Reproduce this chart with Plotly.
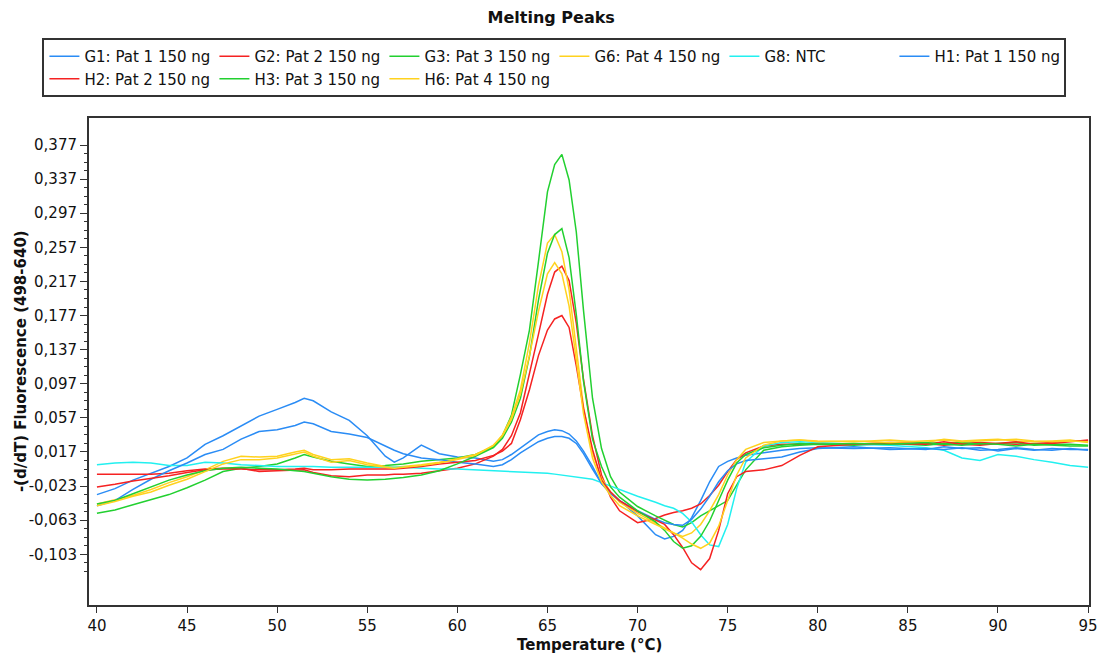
import plotly.graph_objects as go

# ---------------- data ----------------
temperature_c = [40, 41, 42, 43, 44, 45, 46, 47, 48, 49, 50, 51,
                 51.5, 52, 53, 54, 55, 56, 56.5, 57, 58, 59,
                 60, 61, 62, 62.5, 63, 63.5, 64, 64.5,
                 65, 65.4, 65.8, 66.2, 66.6, 67, 67.5, 68, 68.5,
                 69, 70, 71, 71.5, 72, 72.5, 73, 73.5, 74, 74.5, 75, 75.5,
                 76, 77, 78, 79, 80,
                 82, 84, 86, 87, 88, 89, 90, 91, 92, 93, 94, 95]

g1_pat1 = [-0.033, -0.026, -0.016, -0.008, 0.000, 0.010, 0.026, 0.036, 0.048, 0.059, 0.067, 0.075,
           0.080, 0.077, 0.064, 0.054, 0.036, 0.012, 0.005, 0.010, 0.025, 0.015,
           0.011, 0.010, 0.006, 0.008, 0.014, 0.022, 0.030, 0.037,
           0.041, 0.043, 0.042, 0.038, 0.030, 0.018, 0.000, -0.020, -0.030,
           -0.040, -0.058, -0.080, -0.085, -0.082, -0.075, -0.060, -0.040, -0.018, 0.000, 0.006, 0.010,
           0.013, 0.016, 0.019, 0.021, 0.022,
           0.021, 0.022, 0.020, 0.023, 0.021, 0.022, 0.018, 0.021, 0.019, 0.021, 0.020, 0.020]

g2_pat2 = [-0.009, -0.009, -0.009, -0.009, -0.008, -0.005, -0.003, -0.002, -0.002, -0.006, -0.005, -0.004,
           -0.004, -0.007, -0.011, -0.012, -0.010, -0.010, -0.009, -0.009, -0.008, -0.005,
           -0.002, 0.003, 0.012, 0.020, 0.036, 0.063, 0.108, 0.155,
           0.202, 0.228, 0.235, 0.218, 0.168, 0.102, 0.036, -0.010, -0.036,
           -0.052, -0.066, -0.061, -0.057, -0.054, -0.052, -0.049, -0.044, -0.034, -0.022, -0.006, 0.008,
           0.016, 0.024, 0.026, 0.026, 0.027,
           0.026, 0.028, 0.027, 0.025, 0.027, 0.028, 0.027, 0.026, 0.027, 0.028, 0.030, 0.030]

g3_pat3 = [-0.055, -0.051, -0.045, -0.039, -0.033, -0.025, -0.016, -0.006, -0.002, 0.000, 0.003, 0.010,
           0.014, 0.011, 0.006, 0.003, 0.000, 0.001, 0.002, 0.003, 0.006, 0.008,
           0.010, 0.014, 0.023, 0.036, 0.060, 0.108, 0.160, 0.240,
           0.322, 0.354, 0.366, 0.336, 0.275, 0.183, 0.080, 0.021, -0.012,
           -0.030, -0.047, -0.058, -0.063, -0.068, -0.071, -0.066, -0.058, -0.052, -0.046, -0.040, -0.022,
           -0.004, 0.019, 0.023, 0.025, 0.026,
           0.025, 0.027, 0.025, 0.027, 0.028, 0.026, 0.027, 0.028, 0.025, 0.026, 0.026, 0.025]

g6_pat4 = [-0.044, -0.039, -0.034, -0.027, -0.019, -0.012, -0.004, 0.006, 0.012, 0.011, 0.012, 0.017,
           0.019, 0.014, 0.008, 0.009, 0.004, 0.000, -0.001, 0.000, 0.002, 0.005,
           0.009, 0.014, 0.024, 0.037, 0.058, 0.090, 0.145, 0.212,
           0.262, 0.272, 0.252, 0.207, 0.135, 0.070, 0.016, -0.014, -0.030,
           -0.042, -0.055, -0.066, -0.072, -0.078, -0.082, -0.078, -0.068, -0.052, -0.033, -0.010, 0.008,
           0.020, 0.028, 0.030, 0.031, 0.030,
           0.029, 0.031, 0.028, 0.032, 0.030, 0.031, 0.032, 0.030, 0.029, 0.030, 0.031, 0.028]

g8_ntc = [0.002, 0.004, 0.005, 0.004, 0.001, 0.001, 0.005, 0.004, 0.002, 0.001, 0.000, 0.000,
          0.000, 0.000, -0.001, -0.001, -0.001, -0.001, -0.001, -0.001, -0.002, -0.003,
          -0.003, -0.004, -0.005, -0.005, -0.006, -0.006, -0.007, -0.007,
          -0.008, -0.009, -0.010, -0.011, -0.012, -0.013, -0.015, -0.019, -0.023,
          -0.027, -0.035, -0.042, -0.046, -0.049, -0.055, -0.065, -0.080, -0.092, -0.094, -0.068, -0.026,
          0.005, 0.024, 0.028, 0.029, 0.028,
          0.026, 0.025, 0.022, 0.019, 0.010, 0.007, 0.014, 0.012, 0.008, 0.005, 0.001, -0.001]

h1_pat1 = [-0.046, -0.040, -0.027, -0.015, -0.005, 0.004, 0.014, 0.020, 0.032, 0.041, 0.043, 0.048,
           0.052, 0.050, 0.041, 0.038, 0.034, 0.024, 0.019, 0.015, 0.010, 0.008,
           0.005, 0.003, 0.000, 0.002, 0.008, 0.016, 0.023, 0.029,
           0.033, 0.035, 0.035, 0.033, 0.027, 0.015, -0.003, -0.020, -0.032,
           -0.040, -0.052, -0.062, -0.066, -0.068, -0.069, -0.062, -0.050, -0.035, -0.018, -0.005, 0.003,
           0.007, 0.009, 0.011, 0.017, 0.021,
           0.023, 0.020, 0.021, 0.020, 0.022, 0.019, 0.020, 0.022, 0.020, 0.019, 0.021, 0.019]

h2_pat2 = [-0.024, -0.021, -0.017, -0.014, -0.011, -0.007, -0.004, -0.003, -0.003, -0.004, -0.004, -0.003,
           -0.002, -0.004, -0.004, -0.003, -0.003, -0.003, -0.003, -0.002, 0.000, 0.003,
           0.005, 0.007, 0.013, 0.018, 0.027, 0.055, 0.090, 0.130,
           0.160, 0.173, 0.177, 0.163, 0.118, 0.068, 0.020, -0.016, -0.030,
           -0.040, -0.053, -0.063, -0.068, -0.080, -0.095, -0.113, -0.121, -0.108, -0.075, -0.032, -0.012,
           -0.006, -0.004, 0.001, 0.013, 0.023,
           0.026, 0.027, 0.026, 0.029, 0.026, 0.025, 0.027, 0.029, 0.026, 0.027, 0.029, 0.031]

h3_pat3 = [-0.044, -0.040, -0.032, -0.024, -0.016, -0.010, -0.005, -0.002, -0.001, -0.002, -0.003, -0.005,
           -0.006, -0.008, -0.012, -0.015, -0.016, -0.015, -0.014, -0.013, -0.010, -0.005,
           0.003, 0.012, 0.022, 0.033, 0.052, 0.080, 0.129, 0.195,
           0.250, 0.272, 0.279, 0.245, 0.178, 0.100, 0.032, 0.000, -0.024,
           -0.036, -0.052, -0.065, -0.075, -0.088, -0.096, -0.093, -0.082, -0.064, -0.040, -0.016, 0.004,
           0.014, 0.022, 0.025, 0.027, 0.026,
           0.027, 0.026, 0.028, 0.026, 0.025, 0.027, 0.026, 0.024, 0.026, 0.025, 0.024, 0.024]

h6_pat4 = [-0.046, -0.041, -0.035, -0.030, -0.022, -0.015, -0.006, 0.003, 0.008, 0.008, 0.010, 0.015,
           0.017, 0.012, 0.005, 0.007, 0.002, -0.001, -0.002, -0.001, 0.001, 0.004,
           0.008, 0.013, 0.025, 0.036, 0.055, 0.085, 0.130, 0.182,
           0.226, 0.239, 0.226, 0.188, 0.125, 0.062, 0.010, -0.018, -0.034,
           -0.046, -0.058, -0.068, -0.073, -0.078, -0.084, -0.091, -0.096, -0.090, -0.070, -0.040, -0.010,
           0.010, 0.025, 0.030, 0.031, 0.029,
           0.030, 0.028, 0.030, 0.031, 0.029, 0.030, 0.031, 0.032, 0.030, 0.029, 0.030, 0.029]

series_names = ["G1: Pat 1 150 ng", "G2: Pat 2 150 ng", "G3: Pat 3 150 ng", "G6: Pat 4 150 ng",
                "G8: NTC", "H1: Pat 1 150 ng", "H2: Pat 2 150 ng", "H3: Pat 3 150 ng",
                "H6: Pat 4 150 ng"]
series_values = [g1_pat1, g2_pat2, g3_pat3, g6_pat4, g8_ntc, h1_pat1, h2_pat2, h3_pat3, h6_pat4]

x_tick_values = [40, 45, 50, 55, 60, 65, 70, 75, 80, 85, 90, 95]
y_tick_values = [0.377, 0.337, 0.297, 0.257, 0.217, 0.177, 0.137, 0.097, 0.057, 0.017,
                 -0.023, -0.063, -0.103]
y_tick_labels = ["0,377", "0,337", "0,297", "0,257", "0,217", "0,177", "0,137", "0,097",
                 "0,057", "0,017", "-0,023", "-0,063", "-0,103"]

# ---------------- style ----------------
BLUE, RED, GREEN, YELLOW, CYAN = "#2A8CF5", "#F52222", "#22D030", "#FFD21E", "#22F0F0"
series_colors = [BLUE, RED, GREEN, YELLOW, CYAN, BLUE, RED, GREEN, YELLOW]

FONT = "DejaVu Sans"
TXT = "#111111"
AX = "#333333"

minor_vals = []
for m in y_tick_values:
    for k in (1, 2, 3):
        minor_vals.append(round(m - 0.01 * k, 3))
minor_vals = [v for v in minor_vals if v >= -0.125]

fig = go.Figure()
for name, vals, col in zip(series_names, series_values, series_colors):
    fig.add_trace(go.Scatter(x=temperature_c, y=vals, mode="lines", name=name,
                             line=dict(color=col, width=1.5)))

fig.update_layout(
    width=1109, height=660,
    margin=dict(l=89, r=11, t=118, b=55, pad=0),
    paper_bgcolor="white", plot_bgcolor="white",
    title=dict(text="<b>Melting Peaks</b>", x=0.497, xref="container", xanchor="center",
               y=1 - 17 / 660, yref="container", yanchor="middle",
               font=dict(family=FONT, size=16, color=TXT)),
    showlegend=True,
    legend=dict(orientation="h", xref="paper", yref="paper",
                x=(42 - 89) / 1009, y=(605 - 38) / 487, xanchor="left", yanchor="top",
                entrywidth=125, entrywidthmode="pixels", itemwidth=30,
                bordercolor=AX, borderwidth=2, bgcolor="white",
                traceorder="normal", tracegroupgap=0,
                font=dict(family=FONT, size=15, color=TXT)),
    xaxis=dict(range=[39.56, 95.05], tickmode="array", tickvals=x_tick_values,
               ticktext=[str(v) for v in x_tick_values],
               ticks="outside", ticklen=6, tickwidth=1, tickcolor=AX,
               showline=True, linewidth=2, linecolor=AX, mirror=True,
               showgrid=False, zeroline=False,
               tickfont=dict(family=FONT, size=15, color=TXT)),
    yaxis=dict(range=[-0.1625, 0.4087], tickmode="array", tickvals=y_tick_values,
               ticktext=y_tick_labels,
               ticks="outside", ticklen=7, tickwidth=1, tickcolor=AX,
               showline=True, linewidth=2, linecolor=AX, mirror=True,
               showgrid=False, zeroline=False,
               minor=dict(tickmode="array", tickvals=minor_vals, ticks="outside",
                          ticklen=3, tickwidth=1, tickcolor=AX, showgrid=False),
               tickfont=dict(family=FONT, size=15, color=TXT)),
    annotations=[
        dict(text="<b>Temperature (°C)</b>", xref="paper", yref="paper",
             x=0.5, y=(605 - 645) / 487, xanchor="center", yanchor="middle",
             showarrow=False, font=dict(family=FONT, size=15, color=TXT)),
        dict(text="<b>-(d/dT) Fluorescence (498-640)</b>", xref="paper", yref="paper",
             x=(20 - 89) / 1009, y=0.5, xanchor="center", yanchor="middle",
             textangle=-90, showarrow=False, font=dict(family=FONT, size=15, color=TXT)),
    ],
)

fig.write_html("out.html")
